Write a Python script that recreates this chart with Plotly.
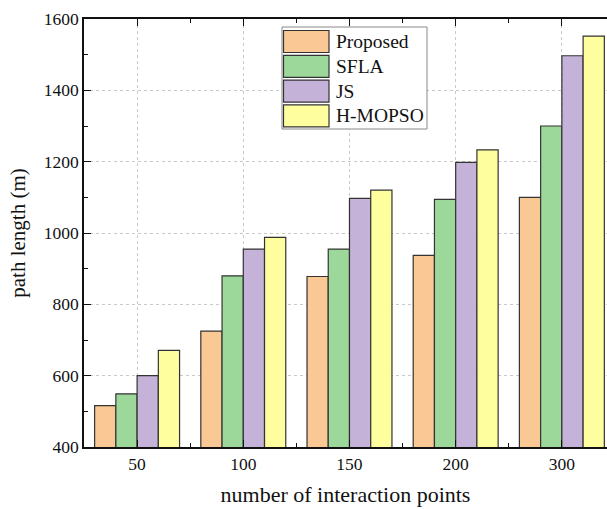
import plotly.graph_objects as go

categories = ["50", "100", "150", "200", "300"]
series_names = ["Proposed", "SFLA", "JS", "H-MOPSO"]
proposed = [516, 725, 878, 937, 1100]
sfla = [549, 880, 955, 1094, 1300]
js = [600, 955, 1097, 1198, 1497]
hmopso = [671, 988, 1120, 1233, 1552]
colors = ["#F9C894", "#9DD89B", "#C4B2D8", "#FEFE9E"]

values = [proposed, sfla, js, hmopso]
xpos = list(range(len(categories)))
FONT = "Liberation Serif"

fig = go.Figure()
for name, vals, col in zip(series_names, values, colors):
    fig.add_trace(go.Bar(x=xpos, y=vals, name=name, marker=dict(color=col, line=dict(color="#333333", width=1.2)),
                         showlegend=False))

# custom legend (box + big swatches)
L, T = 84, 19
W, H = 523, 428
def px(x): return (x - L) / W
def py(y): return (447 - y) / H

fig.add_shape(type="rect", xref="paper", yref="paper", x0=px(282), x1=px(427), y0=py(129), y1=py(27),
              line=dict(color="#888888", width=1), fillcolor="white", layer="above")
for i, (name, col) in enumerate(zip(series_names, colors)):
    top = 30.5 + i * 24.8
    fig.add_shape(type="rect", xref="paper", yref="paper", x0=px(283.5), x1=px(329), y0=py(top + 22), y1=py(top),
                  line=dict(color="#333333", width=1.2), fillcolor=col, layer="above")
    fig.add_annotation(xref="paper", yref="paper", x=px(334), y=py(top + 11), text=name, showarrow=False,
                       xanchor="left", yanchor="middle", font=dict(family=FONT, size=19.5, color="#111"))

fig.update_layout(
    width=607, height=509,
    margin=dict(l=84, r=0, t=19, b=62),
    paper_bgcolor="white", plot_bgcolor="white",
    barmode="group", bargap=0.2, bargroupgap=0,
    font=dict(family=FONT, color="#111"),
)
fig.update_xaxes(
    range=[-0.5, 4.425], tickmode="array", tickvals=xpos, ticktext=categories,
    showline=True, linecolor="#111", linewidth=1.5, mirror="allticks",
    ticks="inside", ticklen=7, tickwidth=1.2, tickcolor="#111",
    showgrid=True, gridcolor="#c8c8c8", griddash="3px,3px", gridwidth=1,
    minor=dict(tickmode="array", tickvals=[0.5, 1.5, 2.5, 3.5], ticks="inside", ticklen=4, tickcolor="#111", showgrid=False),
    tickfont=dict(family=FONT, size=17.5, color="#111"),
    title=dict(text="number of interaction points", font=dict(family=FONT, size=22, color="#111"), standoff=14),
    zeroline=False,
)
fig.update_yaxes(
    range=[400, 1600], tickmode="linear", tick0=400, dtick=200,
    showline=True, linecolor="#111", linewidth=1.5,
    ticks="inside", ticklen=7, tickwidth=1.2, tickcolor="#111",
    showgrid=True, gridcolor="#c8c8c8", griddash="3px,3px", gridwidth=1,
    minor=dict(dtick=100, ticks="inside", ticklen=4, tickcolor="#111", showgrid=False),
    tickfont=dict(family=FONT, size=17.5, color="#111"),
    title=dict(text="path length (m)", font=dict(family=FONT, size=21, color="#111"), standoff=12),
    zeroline=False,
)
fig.write_html("out.html")
